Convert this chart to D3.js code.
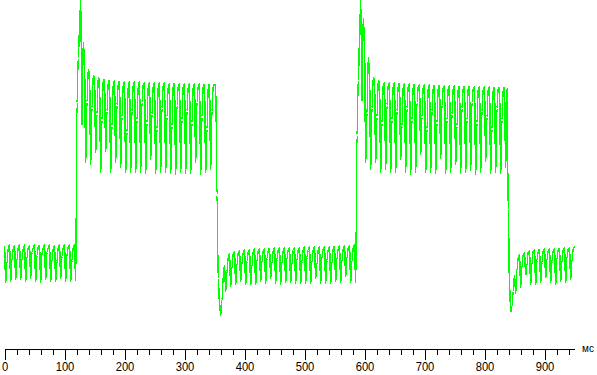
<!DOCTYPE html>
<html>
<head>
<meta charset="utf-8">
<script src="https://cdn.jsdelivr.net/npm/d3@7"></script>
<style>
  html, body { margin: 0; padding: 0; background: #fff; }
  svg { display: block; }
</style>
</head>
<body>
<svg id="chart" width="597" height="375"></svg>
<script>
// sampling interval of the trace (ms), 4 samples per 8.33 ms flicker period
const sampleMs = 1000 / 480;

// levels, segment by segment (relative units)
const lowLevel1 = [
  28.3, 15.8, 22.3, 27.4,  28.4, 16.1, 23.3, 27.2,  28.2, 16.7, 23.3, 27.6,
  28.5, 16.7, 23.3, 27.1,  28.3, 16.1, 24.4, 27.5,  28.1, 17.2, 26.0, 27.3,
  28.4, 16.1, 25.0, 27.6,  28.2, 15.8, 25.7, 27.2,  28.5, 16.7, 26.0, 27.4,
  28.3, 16.1, 23.5, 27.1,  28.2, 16.1, 22.8, 27.5,  28.4, 17.2, 24.6, 27.3,
  28.3, 16.1, 25.4, 27.6,  28.5, 16.1, 23.2, 27.4,  28.4, 16.4
];
const highLevel1 = [
  75.7, 90.7,
  100, 110, 68, 96,        90, 55.7, 76, 86.7,     85.7, 55, 74, 84.7,
  84.5, 59, 72, 84,        83.7, 52.3, 70, 83.5,   83.4, 59.3, 73, 82.6,
  83.2, 52.3, 68, 82.5,    83.0, 55.7, 75, 82.2,   82.9, 54, 71, 82.0,
  82.8, 52.3, 66, 81.8,    82.7, 52.3, 73, 81.9,   82.6, 52.3, 70, 81.6,
  82.6, 52.3, 76, 81.9,    82.5, 52, 69, 81.5,     82.4, 56.7, 72, 81.8,
  82.4, 52, 67, 81.6,      82.3, 52.3, 74, 81.7,   82.3, 52.3, 71, 81.4,
  82.2, 52, 68, 81.8,      82.2, 51.7, 75, 81.5,   82.1, 52.3, 70, 81.7,
  82.1, 52, 73, 81.3,      82.0, 52, 69, 81.6,     82.0, 55.7, 76, 81.4,
  82.0, 51.7, 71, 81.7,    81.9, 52.3, 67, 81.3,   81.9, 53.3, 73, 81.5,
  81.8, 81.4
];
const lowLevel2 = [
  45, 17,
  9, 5, 10, 18,            21.5, 12.8, 19.5, 24.4,  25.3, 14.4, 21, 25.6,
  26.0, 15, 22, 25.7,      26.4, 16.1, 22.5, 25.9,  26.7, 15, 23, 26.0,
  26.8, 15, 21.8, 26.2,    27.0, 15, 23.4, 26.3,    27.2, 16.1, 22.6, 26.4,
  27.2, 15.6, 24, 26.5,    27.2, 17.2, 22.3, 26.4,  27.3, 15.6, 23.6, 26.6,
  27.3, 15.3, 22.8, 26.5,  27.4, 15.8, 24.2, 26.6,  27.4, 15.8, 22.5, 26.7,
  27.5, 15.6, 23.8, 26.6,  27.5, 15.6, 22.9, 26.8,  27.6, 15.6, 24.3, 26.7,
  27.6, 15.6, 23.1, 26.9,  27.7, 17.2, 22.4, 26.8,  27.7, 15.6, 24.5, 27.0,
  27.8, 15.6, 23.3, 26.9,  27.9, 15.6, 22.7, 27.1,  27.9, 16.1, 24.1, 27.0,
  28.0, 15.8, 23.5, 27.2,  28.1, 17.8, 24.4, 27.3,  28.2, 15.8, 23.0, 27.4,
  28.3, 15.8
];
const highLevel2 = [
  65, 83.3,
  96, 110, 76, 104,        96.7, 55.7, 72.3, 90.7,  86, 53.3, 74, 84,
  83.7, 55.7, 71, 83,      82.7, 52.3, 69, 82.1,    82.4, 53.3, 75, 81.9,
  82.3, 52.3, 70, 81.8,    82.3, 52.3, 73, 81.6,    82.2, 56.7, 68, 81.7,
  82.1, 52.3, 74, 81.5,    82.0, 51.7, 70, 81.6,    81.9, 52.3, 76, 81.3,
  81.8, 58.3, 71, 81.4,    81.7, 52.3, 67, 81.2,    81.6, 52.3, 73, 81.0,
  81.5, 52, 69, 81.1,      81.5, 57, 75, 80.9,      81.4, 52, 70, 81.0,
  81.3, 52.3, 72, 80.8,    81.3, 55, 68, 80.9,      81.2, 52, 74, 80.7,
  81.2, 52.3, 70, 80.9,    81.1, 53, 76, 80.7,      81.1, 51.7, 69, 80.8,
  81.0, 52.3, 73, 80.6,    81.0, 56, 71, 80.8,      81.0, 52, 67, 80.6,
  80.9, 52.3, 74, 80.7,    80.9, 52, 70, 80.5,
  80.9, 54, 80.7
];
const lowLevel3 = [
  40,
  15, 6, 8, 13,            18, 12.3, 20.5, 24,      25, 14.3, 21.5, 25.3,
  25.8, 18.3, 22, 26.1,    26.3, 15, 22.5, 26.5,    26.7, 15, 23.3, 26.2,
  26.9, 15.7, 22.6, 26.4,  27.0, 17.3, 23.8, 26.5,  27.0, 15.7, 22.9, 26.6,
  27.1, 15, 24.1, 26.6,    27.2, 16, 23, 26.8,      27.3, 15.7, 24.4, 26.9,
  27.5, 16.7, 23.4, 27.1,
  27.6
];

const majorTicks = [0, 100, 200, 300, 400, 500, 600, 700, 800, 900];
const minorTicks = [20, 40, 60, 80, 120, 140, 160, 180, 220, 240, 260, 280,
  320, 340, 360, 380, 420, 440, 460, 480, 520, 540, 560, 580, 620, 640, 660, 680,
  720, 740, 760, 780, 820, 840, 860, 880, 920, 940];
const unitLabel = 'мс';

const svg = d3.select('#chart');
const x = d3.scaleLinear().domain([0, 950]).range([4.5, 574.5]);
const y = d3.scaleLinear().domain([0, 110]).range([330, 0]);

const level = [].concat(lowLevel1, highLevel1, lowLevel2, highLevel2, lowLevel3);

// trace; bump curve keeps the dips steep like the scope's spikes
svg.append('path')
    .datum(level)
    .attr('fill', 'none')
    .attr('stroke', '#00ff00')
    .attr('stroke-width', 1.5)
    .attr('shape-rendering', 'crispEdges')
    .attr('d', d3.line()
        .curve(d3.curveBumpX)
        .x((d, i) => x(i * sampleMs))
        .y(d => y(d)));

// time axis: minor ticks first, then major ticks with labels
const minorAxis = svg.append('g')
    .attr('transform', 'translate(0,349)')
    .call(d3.axisBottom(x).tickValues(minorTicks).tickSize(6).tickSizeOuter(0).tickFormat(''));

const majorAxis = svg.append('g')
    .attr('transform', 'translate(0,349)')
    .call(d3.axisBottom(x).tickValues(majorTicks).tickSize(11).tickSizeOuter(0));
majorAxis.select('.domain').remove();

svg.selectAll('.domain, .tick line')
    .attr('stroke', '#000')
    .attr('shape-rendering', 'crispEdges');

majorAxis.selectAll('text')
    .attr('y', 22)
    .attr('dy', null)
    .attr('fill', '#000')
    .style('font-family', '"Liberation Sans", Arial, sans-serif')
    .style('font-size', '13px')
    .attr('textLength', d => String(d).length * 6.2)
    .attr('lengthAdjust', 'spacingAndGlyphs');

svg.append('text')
    .attr('x', 582)
    .attr('y', 352)
    .attr('fill', '#000')
    .style('font-family', '"Liberation Sans", Arial, sans-serif')
    .style('font-size', '10px')
    .text(unitLabel);
</script>
</body>
</html>
